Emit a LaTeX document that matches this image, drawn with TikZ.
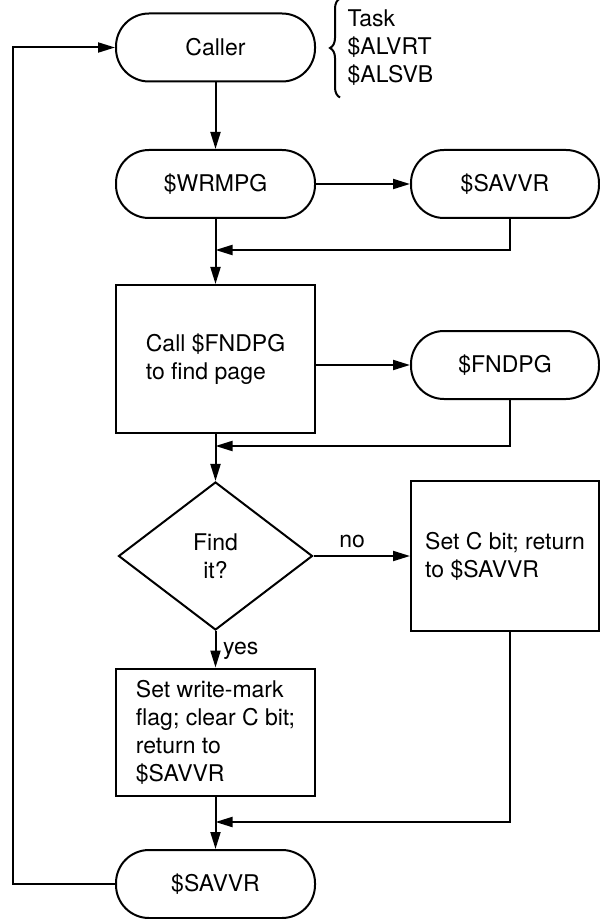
\documentclass[tikz,border=0pt]{standalone}
\usepackage{fontspec}
\setmainfont{TeX Gyre Heros}
\usetikzlibrary{shapes.geometric, arrows.meta, decorations.pathreplacing}

\begin{document}
\begin{tikzpicture}[x=0.5pt, y=-0.5pt, line width=1pt,
    >={Triangle[length=8.5pt, width=5pt]},
    font=\fontsize{11.5}{14}\selectfont,
    term/.style = {draw, rectangle, rounded corners=16.5pt, minimum width=99.5pt, minimum height=34pt, inner sep=0pt},
    proc/.style = {draw, rectangle, minimum width=99.5pt, align=left, inner sep=0pt},
    dec/.style = {draw, diamond, minimum width=97pt, minimum height=74pt, inner sep=0pt, align=center}]
    \useasboundingbox (0,0) rectangle (599,919);

    % main column
    \node[term] (caller) at (215.5,47.5) {Caller};
    \node[term] (wrmpg) at (215.5,184) {\$WRMPG};
    \node[proc, minimum height=74pt] (findbox) at (215.5,359) {Call \$FNDPG\\to find page};
    \node[dec] (find) at (215.5,556) {Find\\it?};
    \node[proc, minimum height=63.5pt] (wmark) at (215.5,732) {Set write-mark\\flag; clear C bit;\\return to\\\$SAVVR};
    \node[term] (savvr2) at (215.5,884) {\$SAVVR};

    % right column
    \node[term, minimum width=94pt] (savvr1) at (505,184) {\$SAVVR};
    \node[term, minimum width=94pt] (fndpg) at (505,365) {\$FNDPG};
    \node[proc, minimum width=94pt, minimum height=75pt] (setc) at (505,556) {Set C bit; return\\to \$SAVVR};

    % callers of the routine
    \node[anchor=west, align=left, font=\fontsize{11.5}{14}\selectfont] (tasks) at (340,48) {Task\\\$ALVRT\\\$ALSVB};
    \draw[decorate, decoration={brace, amplitude=5pt}] ([yshift=-2pt]tasks.south west) -- ([yshift=2pt]tasks.north west);

    \coordinate (m1) at (215.5,250);
    \coordinate (m2) at (215.5,446);
    \coordinate (m3) at (215.5,822);
    \coordinate (lc) at (13,884);

    \draw[->] (caller) -- (wrmpg);
    \draw[->] (wrmpg) -- (savvr1);
    \draw[->] (wrmpg) -- (findbox);
    \draw[->] ([xshift=2.5pt]savvr1.south) |- (m1);
    \draw[->] (findbox.east |- fndpg) -- (fndpg);
    \draw[->] (findbox) -- (find);
    \draw[->] ([xshift=2.5pt]fndpg.south) |- (m2);
    \draw[->] (find) -- node[above, pos=0.4] {no} (setc);
    \draw[->] (find) -- node[right, pos=0.55] {yes} (wmark);
    \draw[->] (wmark) -- (savvr2);
    \draw[->] ([xshift=2.5pt]setc.south) |- (m3);
    \draw[->] (savvr2.west) -- (lc) |- (caller.west);
\end{tikzpicture}
\end{document}
